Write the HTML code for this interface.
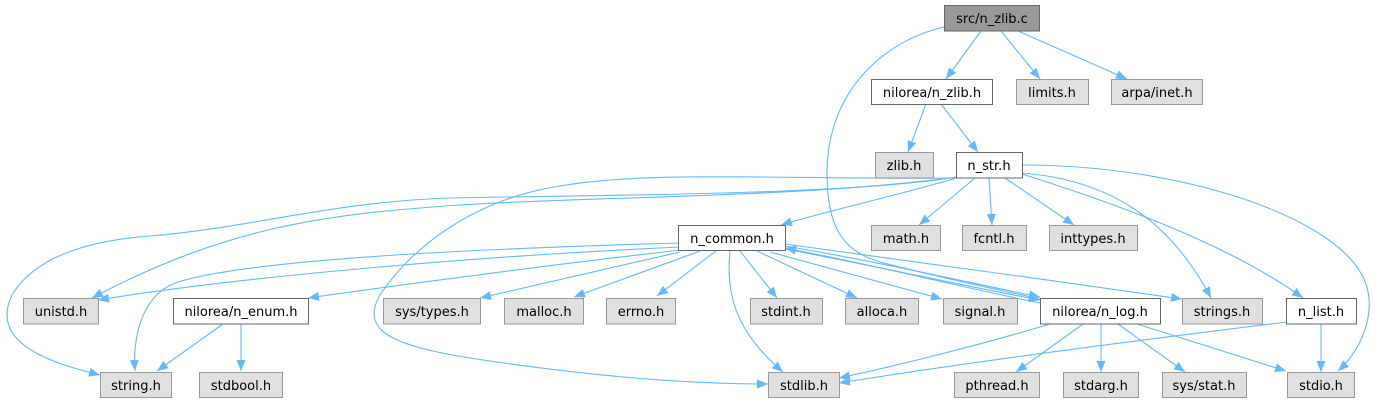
<!DOCTYPE html>
<html><head><meta charset="utf-8"><style>
html,body{margin:0;padding:0;background:#fff;}
svg{display:block;}
text{font-family:"DejaVu Sans","Liberation Sans",sans-serif;font-size:13px;fill:#000;text-anchor:middle;}
.e{fill:none;stroke:#63b8ff;stroke-width:1.1;marker-end:url(#a);}
.g{fill:#e0e0e0;stroke:#999999;stroke-width:1;}
.w{fill:#ffffff;stroke:#666666;stroke-width:1;}
.r{fill:#999999;stroke:#666666;stroke-width:1;}
</style></head><body>
<svg width="1378" height="403" viewBox="0 0 1378 403" xmlns="http://www.w3.org/2000/svg">
<defs>
<marker id="a" viewBox="0 0 11 9" refX="11" refY="4.5" markerWidth="11" markerHeight="9" markerUnits="userSpaceOnUse" orient="auto">
<path d="M0,0 L11,4.5 L0,9 z" fill="#63b8ff"/>
</marker>
</defs>
<!-- edges -->
<path class="e" d="M981,31 L946,79"/>
<path class="e" d="M1001,31 L1040,79"/>
<path class="e" d="M1018,31 L1127,79"/>
<path class="e" d="M944,27 C880,42 826,95 827,175 C828,225 840,250 880,262 C950,280 1000,290 1040,299"/>
<path class="e" d="M926,104 L908,152"/>
<path class="e" d="M941,104 L978,152"/>
<path class="e" d="M960,177 C900,195 830,210 781,225"/>
<path class="e" d="M975,178 L919,225"/>
<path class="e" d="M989,178 L992,225"/>
<path class="e" d="M1005,178 L1074,225"/>
<path class="e" d="M1022,173 C1110,180 1170,220 1211,298"/>
<path class="e" d="M1022,174 C1120,205 1230,245 1303,298"/>
<path class="e" d="M1022,165 C1180,165 1330,215 1362,275 C1378,305 1366,345 1338,371"/>
<path class="e" d="M957,177 C850,195 600,195 450,198 C330,202 250,228 150,236 C70,242 30,265 12,295 C0,320 10,340 40,355 C60,365 80,370 100,375"/>
<path class="e" d="M957,177 C800,198 600,196 460,205 C330,214 230,225 92,298"/>
<path class="e" d="M957,178 C800,180 650,170 560,186 C470,200 410,250 380,295 C360,330 390,345 470,358 C580,375 680,384 768,384"/>
<path class="e" d="M681,247 C500,255 250,275 98,300"/>
<path class="e" d="M680,243 C500,248 250,258 175,283 C140,297 133,340 135,371"/>
<path class="e" d="M681,250 C550,265 400,285 308,298"/>
<path class="e" d="M680,252 L480,298"/>
<path class="e" d="M700,251 L574,297"/>
<path class="e" d="M717,250 L657,296"/>
<path class="e" d="M740,251 L777,298"/>
<path class="e" d="M730,251 C725,300 740,335 783,372"/>
<path class="e" d="M757,251 L857,298"/>
<path class="e" d="M770,252 L942,299"/>
<path class="e" d="M785,246 C880,262 970,283 1040,297"/>
<path class="e" d="M785,249 C880,267 970,287 1040,300"/>
<path class="e" d="M1040,303 C960,287 870,264 785,248"/>
<path class="e" d="M785,244 C900,260 1050,280 1182,299"/>
<path class="e" d="M1050,324 C980,345 900,365 839,378"/>
<path class="e" d="M1083,324 L1016,372"/>
<path class="e" d="M1101,324 L1101,372"/>
<path class="e" d="M1118,324 L1185,372"/>
<path class="e" d="M1137,324 L1286,371"/>
<path class="e" d="M1287,322 C1100,345 950,365 839,383"/>
<path class="e" d="M1321,324 L1321,372"/>
<path class="e" d="M223,324 L157,371"/>
<path class="e" d="M241,324 L241,371"/>
<!-- nodes -->
<rect class="r" x="944.5" y="5.5" width="95" height="25.5"/><text x="992" y="23">src/n_zlib.c</text>
<rect class="w" x="871.5" y="79.5" width="121" height="25"/><text x="932" y="97">nilorea/n_zlib.h</text>
<rect class="g" x="1016.5" y="79.5" width="72" height="25"/><text x="1052" y="97">limits.h</text>
<rect class="g" x="1111.5" y="79.5" width="91" height="25"/><text x="1157" y="97">arpa/inet.h</text>
<rect class="g" x="875.5" y="152.5" width="58" height="25.5"/><text x="904" y="170">zlib.h</text>
<rect class="w" x="956.5" y="152.5" width="66" height="25.5"/><text x="989" y="170">n_str.h</text>
<rect class="g" x="871.5" y="225.5" width="69" height="25"/><text x="906" y="243">math.h</text>
<rect class="g" x="962.5" y="225.5" width="64" height="25"/><text x="994" y="243">fcntl.h</text>
<rect class="g" x="1049.5" y="225.5" width="88" height="25"/><text x="1093" y="243">inttypes.h</text>
<rect class="w" x="678.5" y="225.5" width="107" height="25"/><text x="732" y="243">n_common.h</text>
<rect class="g" x="23.5" y="298.5" width="75" height="25.5"/><text x="61" y="316">unistd.h</text>
<rect class="w" x="173.5" y="298.5" width="135" height="25.5"/><text x="241" y="316">nilorea/n_enum.h</text>
<rect class="g" x="383.5" y="298.5" width="97" height="25.5"/><text x="432" y="316">sys/types.h</text>
<rect class="g" x="504.5" y="298.5" width="79" height="25.5"/><text x="544" y="316">malloc.h</text>
<rect class="g" x="606.5" y="298.5" width="69" height="25.5"/><text x="641" y="316">errno.h</text>
<rect class="g" x="750.5" y="298.5" width="72" height="25.5"/><text x="786" y="316">stdint.h</text>
<rect class="g" x="845.5" y="298.5" width="73" height="25.5"/><text x="882" y="316">alloca.h</text>
<rect class="g" x="943.5" y="298.5" width="74" height="25.5"/><text x="980" y="316">signal.h</text>
<rect class="w" x="1040.5" y="298.5" width="120" height="25.5"/><text x="1100" y="316">nilorea/n_log.h</text>
<rect class="g" x="1182.5" y="298.5" width="80" height="25.5"/><text x="1222" y="316">strings.h</text>
<rect class="w" x="1286.5" y="298.5" width="70" height="25.5"/><text x="1321" y="316">n_list.h</text>
<rect class="g" x="100.5" y="372.5" width="71" height="25"/><text x="136" y="390">string.h</text>
<rect class="g" x="199.5" y="372.5" width="83" height="25"/><text x="241" y="390">stdbool.h</text>
<rect class="g" x="768.5" y="372.5" width="71" height="25"/><text x="804" y="390">stdlib.h</text>
<rect class="g" x="954.5" y="372.5" width="85" height="25"/><text x="997" y="390">pthread.h</text>
<rect class="g" x="1063.5" y="372.5" width="75" height="25"/><text x="1101" y="390">stdarg.h</text>
<rect class="g" x="1162.5" y="372.5" width="84" height="25"/><text x="1204" y="390">sys/stat.h</text>
<rect class="g" x="1287.5" y="372.5" width="67" height="25"/><text x="1321" y="390">stdio.h</text>
</svg>
</body></html>
